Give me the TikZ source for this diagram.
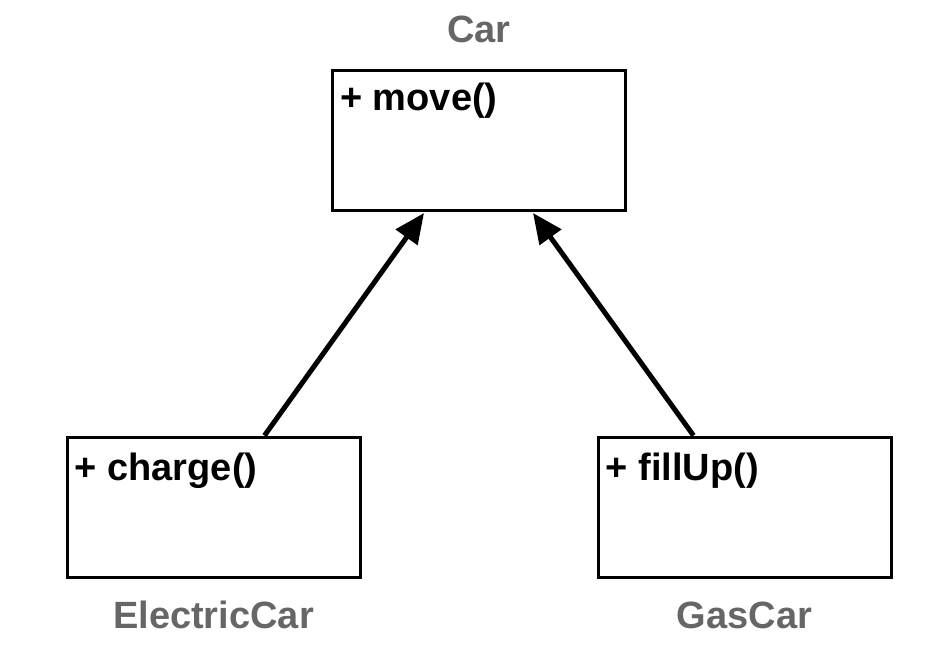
\documentclass[tikz,border=0pt]{standalone}
\usepackage{fontspec}
\setmainfont{Liberation Sans}
\usetikzlibrary{arrows.meta}
\definecolor{labelgray}{HTML}{666666}
\tikzset{
	classbox/.style={draw, line width=3pt, minimum width=293pt, minimum height=140pt, inner sep=0pt},
	member/.style={anchor=base west, inner sep=0pt, font=\fontsize{38}{44}\selectfont\bfseries},
	classname/.style={anchor=base, inner sep=0pt, text=labelgray, font=\fontsize{38}{44}\selectfont\bfseries},
	inherit/.style={line width=5pt, -{Triangle[length=30pt,width=26pt]}}
}
\begin{document}
\begin{tikzpicture}[x=1pt,y=-1pt]
			\useasboundingbox (0,0) rectangle (940,653);
			% Classes
			\node[classbox] (car) at (479,140.5) {};
			\node[classbox] (ecar) at (213.5,507) {};
			\node[classbox] (gcar) at (744.5,507) {};
			% Members
			\node[member] (carm) at ([xshift=9pt,yshift=-41pt]car.north west) {+ move()};
			\node[member] (ecarm) at ([xshift=9pt,yshift=-45pt]ecar.north west) {+ charge()};
			\node[member] (gcarm) at ([xshift=9pt,yshift=-45pt]gcar.north west) {+ fillUp()};
			% Labels
			\node[classname] (carl) at (479,42) {Car};
			\node[classname] (ecarl) at (213.5,628) {ElectricCar};
			\node[classname] (gcarl) at (744.5,628) {GasCar};
			% Inheritance
			\draw[inherit] ([xshift=199pt]ecar.north west) -- ([xshift=93pt,yshift=-1pt]car.south west);
			\draw[inherit] ([xshift=97pt]gcar.north west) -- ([xshift=202pt,yshift=-1pt]car.south west);
		\end{tikzpicture}
\end{document}
